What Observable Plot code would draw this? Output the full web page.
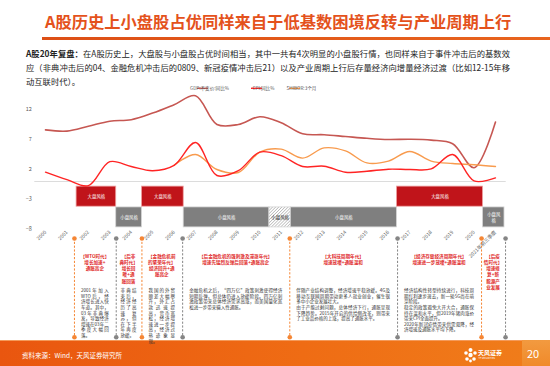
<!DOCTYPE html>
<html><head><meta charset="utf-8">
<script src="https://cdn.jsdelivr.net/npm/d3@7"></script>
<script src="https://cdn.jsdelivr.net/npm/@observablehq/plot@0.6"></script>
<style>
body{margin:0;width:550px;height:366px;overflow:hidden;background:#fff;font-family:"Noto Sans CJK SC","Noto Sans",sans-serif;position:relative}
.abs{position:absolute}
#title{left:45px;top:9px;font-size:16.3px;font-weight:bold;color:#E4521C;white-space:nowrap;line-height:24px}
#rule{left:42px;top:36.5px;width:508px;height:3px;background:linear-gradient(90deg,#DD4F16,#E8641E)}
#para{left:26px;top:45.5px;width:484px;font-size:8.3px;color:#222;line-height:14.3px}
#para div{text-align:justify;text-align-last:justify}
#para div.last{text-align-last:left}
#chart{left:0;top:84px}
.ctitle{color:#E02A2A;font-size:4.6px;font-weight:bold;line-height:6.3px;text-align:center;white-space:pre}
.cbody{color:#333;font-size:4.5px;line-height:5.6px;text-align:justify;white-space:pre-line}
#footer{left:0;top:340px;width:550px;height:26px;background:linear-gradient(90deg,#E9560F 0%,#EF6C14 55%,#F07E1B 100%);box-shadow:inset 0 1px 0 #F49A5A}
#src{left:22px;top:350px;font-size:6.5px;color:#fff;white-space:nowrap}
#logo{left:478px;top:348.5px;font-size:6px;font-weight:bold;color:#fff;white-space:nowrap;line-height:7px}
#logo2{left:478.5px;top:356.5px;font-size:2.4px;color:#fff;white-space:nowrap;line-height:3px}
#pbox{left:522px;top:340px;width:28px;height:26px;background:linear-gradient(180deg,#F29A40,#F08A2A)}
#pnum{left:527px;top:346px;font-size:11px;color:#fff;line-height:14px}
</style></head>
<body>
<svg width="0" height="0" style="position:absolute">
  <defs>
    <pattern id="hatch" patternUnits="userSpaceOnUse" width="2.2" height="2.2" patternTransform="rotate(45)">
      <rect width="2.2" height="2.2" fill="#fff"/>
      <line x1="0" y1="0" x2="0" y2="2.2" stroke="#8a8a8a" stroke-width="0.9"/>
    </pattern>
  </defs>
</svg>
<div id="title" class="abs">A股历史上小盘股占优同样来自于低基数困境反转与产业周期上行</div>
<div id="rule" class="abs"></div>
<div id="para" class="abs">
  <div><b>A股20年复盘：</b>在A股历史上，大盘股与小盘股占优时间相当，其中一共有4次明显的小盘股行情，也同样来自于事件冲击后的基数效</div>
  <div>应（非典冲击后的04、金融危机冲击后的0809、新冠疫情冲击后21）以及产业周期上行后存量经济向增量经济过渡（比如12-15年移</div>
  <div class="last">动互联时代）。</div>
</div>
<div id="chart" class="abs"></div>
<div id="footer" class="abs"></div>
<div id="src" class="abs">资料来源：Wind，天风证券研究所</div>
<svg class="abs" style="left:463px;top:347px" width="15" height="16" viewBox="0 0 15 16">
  <g fill="#fff"><circle cx="7.5" cy="3" r="2"/><circle cx="3" cy="6" r="1.8"/><circle cx="12" cy="6" r="1.8"/><circle cx="7.5" cy="8" r="2.2"/><circle cx="4" cy="12" r="1.8"/><circle cx="11" cy="12" r="1.8"/><circle cx="7.5" cy="14" r="1.4"/></g>
</svg>
<div id="logo" class="abs">天风证券</div>
<div id="logo2" class="abs">TF SECURITIES</div>
<div id="pbox" class="abs"></div>
<div id="pnum" class="abs">20</div>
<script>
// ---- data ----
const years = [2000,2001,2002,2003,2004,2005,2006,2007,2008,2009,2010,2011,2012,2013,2014,2015,2016,2017,2018,2019,2020,2021];
const gdp = [8.6,8.4,9.2,10.05,10.3,11.4,12.8,14.3,9.5,9.5,10.8,9.8,7.95,7.8,7.5,7.2,7.0,7.05,6.9,6.3,2.3,9.9];
const cpi = [1.55,0.3,-0.7,3.3,2.5,1.8,2.7,6.5,1.0,1.8,4.9,4.3,2.5,2.55,1.55,1.7,2.05,2.0,2.1,4.5,0.1,0.6];
const shiborYears = [2006,2007,2008,2009,2010,2011,2012,2013,2014,2015,2016,2017,2018,2019,2020,2021];
const shibor = [2.7,4.5,2.0,1.5,4.9,5.4,3.9,5.6,5.1,3.1,3.4,5.0,3.4,3.0,2.8,2.5];
const tickLabels = ["2000","2001","2002","2003","2004","2005","2006","2007","2008","2009","2010","2011","2012","2013","2014","2015","2016","2017","2018","2019","2020","2021年前三季度"];
const yTicks = [12,7,2,-3,-8];
const seriesNames = ["GDP:不变价:同比%","CPI:同比%","SHIBOR:3个月"];

const regimeStart = [2001.45,2003.3,2004.5,2006.45,2010.45,2011.45,2016.4,2020.42];
const regimeEnd   = [2003.3,2004.5,2006.45,2010.45,2011.45,2016.4,2020.42,2021.42];
const regimeKind  = ["large","small","large","small","mixed","small","large","small"];
const regimeLabel = ["大盘风格","小盘风格","大盘风格","小盘风格","小盘风格","小盘风格","大盘风格","小盘风\n格"];

const eraBounds = [2001.35,2003.3,2004.5,2006.4,2011.4,2016.43,2020.35,2021.47];
const eraTitle = [
  "【WTO时代】\n增长加速+\n通胀高企",
  "【后非\n典时代】\n增长回\n暖+通\n胀回落",
  "【金融危机前\n的繁荣年代】\n经济回升+通\n胀高企",
  "【后金融危机的强刺激及滞涨年代】\n增速先猛烈反弹后回落+通胀高企",
  "【大科技周期年代】\n增速放缓+通胀温和",
  "【经济存量经济周期年代】\n增速进一步放缓+通胀温和",
  "【后疫\n情时代】\n增速修\n复+新\n能源产\n业发展"
];
const eraBody = [
  "2001年加入WTO后，经济增长进入快车道。其中，03年非典爆发，导致经济增速在03年二季度大幅回落。",
  "非典结束后，经济经历了高速复苏，但在下半年再度放缓。",
  "我国的外贸顺差大幅攀升，外汇占款迅速提高，货币宽松，经济增速进一步提高，经济过热迹象显现。",
  "金融危机之后，“四万亿”政策刺激使得经济短期反弹，但总体仍进入放缓阶段。四万亿刺激政策带来总体经济需求高涨，而美国量化宽松进一步带来输入性通胀。",
  "伴随产业结构调整，经济增速平稳放缓。4G及移动互联网周期带动更多人就业创业，催生很多中小企业发展壮大。\n由于产能过剩问题，总体经济下行，通胀呈现下降趋势。2015年开启的供给侧改革，则带来了工业品价格的上涨，提高了通胀水平。",
  "经济结构性转型持续进行，科技周期红利逐步退去，新一轮5G尚在萌芽阶段。\n稳定的政策避免大开大合，通胀保持在温和水平，但2019年猪肉涨价带来CPI全面提升。\n2020年新冠疫情带来供需双降，经济增速及通胀水平均下降。",
  ""
];

// ---- build tables ----
const gdpData = years.map((y,i)=>({year:y, v:gdp[i]}));
const cpiData = years.map((y,i)=>({year:y, v:cpi[i]}));
const shiborData = shiborYears.map((y,i)=>({year:y, v:shibor[i]}));
const regimes = regimeStart.map((s,i)=>({s, e:regimeEnd[i], kind:regimeKind[i], label:regimeLabel[i]}));
const bounds = eraBounds.map((b,i)=>({b, c: i%2===0 ? "#F58634" : "#858585"}));

const COL = {gdp:"#C65752", cpi:"#FF2424", shibor:"#F89B4E", large:"#C0141A", small:"#7F7F7F"};
const band = {large:[-0.85,-4.2], small:[-4.32,-7.65], mixed:[-4.32,-7.65]};
const tlTop = -9.5, tlBottom = -25.95;

const chart = Plot.plot({
  width: 550, height: 256,
  marginLeft: 34.3, marginRight: 44.3, marginTop: 25, marginBottom: 111,
  x: {domain: [1999.5, 2021.5], axis: null},
  y: {domain: [-8, 12], axis: null},
  style: {fontFamily: '"Noto Sans CJK SC","Noto Sans",sans-serif', color: "#595959", overflow: "visible", background: "transparent"},
  marks: [
    Plot.ruleY([0], {stroke: "#DCDCDC", strokeWidth: 1.2}),
    Plot.axisY({ticks: yTicks, tickSize: 0, tickPadding: 3, fontSize: 5.5, label: null, fill: "#595959"}),
    Plot.axisX({ticks: years, tickFormat: (d)=>tickLabels[years.indexOf(d)], tickRotate: -45, tickSize: 0, tickPadding: 2, fontSize: 5, label: null, fill: "#595959"}),
    Plot.rect(regimes, {x1: "s", x2: "e", y1: d=>band[d.kind][0], y2: d=>band[d.kind][1],
      fill: d=>d.kind==="mixed" ? "url(#hatch)" : COL[d.kind],
      stroke: d=>d.kind==="large" ? "#EFA3A3" : "#D4D4D4", strokeWidth: 0.8}),
    Plot.text(regimes, {x: d=>(d.s+d.e)/2, y: d=>(band[d.kind][0]+band[d.kind][1])/2, text: "label",
      fill: d=>d.kind==="mixed" ? "#222" : "#fff", fontSize: 4.4, lineHeight: 1.3}),
    Plot.line(gdpData, {x: "year", y: "v", stroke: COL.gdp, strokeWidth: 1.6, curve: "catmull-rom"}),
    Plot.line(shiborData, {x: "year", y: "v", stroke: COL.shibor, strokeWidth: 1.4, curve: "catmull-rom"}),
    Plot.line(cpiData, {x: "year", y: "v", stroke: COL.cpi, strokeWidth: 1.4, curve: "catmull-rom"}),
    Plot.ruleX(bounds, {x: "b", y1: tlTop, y2: tlBottom, stroke: "c", strokeWidth: 1, strokeDasharray: "2.2,1.6"}),
    Plot.dot(bounds, {x: "b", y: tlTop, r: 2.3, fill: "c", stroke: "none"}),
    Plot.dot(bounds, {x: "b", y: tlBottom, r: 2.3, fill: "c", stroke: "none"})
  ]
});
document.getElementById("chart").appendChild(chart);

// legend inside svg
const svg = d3.select(chart);
const leg = [
  {name: seriesNames[0], c: COL.gdp, x: 197},
  {name: seriesNames[1], c: COL.cpi, x: 251},
  {name: seriesNames[2], c: COL.shibor, x: 289}
];
const lg = svg.append("g").attr("font-size", 4.6).attr("fill", "#595959");
leg.forEach(l => {
  lg.append("line").attr("x1", l.x).attr("x2", l.x+11).attr("y1", 4.3).attr("y2", 4.3).attr("stroke", l.c).attr("stroke-width", 1.4);
  lg.append("text").attr("x", l.x+12.5).attr("y", 4.3).attr("dy", "0.35em").text(l.name);
});

// era texts (positioned through the x scale)
const xs = chart.scale("x");
for (let i = 0; i < eraBounds.length-1; i++) {
  const L = xs.apply(eraBounds[i]), R = xs.apply(eraBounds[i+1]);
  const W = R - L, cx = (L+R)/2;
  const t = document.createElement("div");
  t.className = "abs ctitle";
  t.style.left = L + "px"; t.style.width = W + "px"; t.style.top = "252.5px";
  t.textContent = eraTitle[i];
  document.body.appendChild(t);
  if (eraBody[i]) {
    const bw = Math.max(16, W - 14);
    const b = document.createElement("div");
    b.className = "abs cbody";
    b.style.left = (cx - bw/2) + "px"; b.style.width = bw + "px"; b.style.top = "288.3px";
    b.textContent = eraBody[i];
    document.body.appendChild(b);
  }
}
</script>
</body></html>
